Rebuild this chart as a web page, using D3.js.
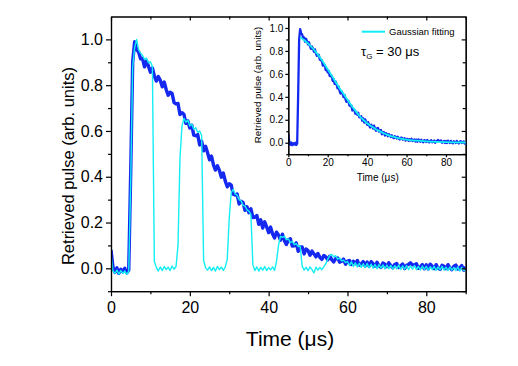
<!DOCTYPE html>
<html>
<head>
<meta charset="utf-8">
<script src="https://cdn.jsdelivr.net/npm/d3@7"></script>
<style>
  body { margin: 0; background: #fff; }
  text { font-family: "Liberation Sans", Arial, sans-serif; fill: #000; }
  .axis path, .axis line { stroke: #000; stroke-width: 1.2; }
</style>
</head>
<body>
<div id="chart"></div>
<script>
// Data: pulse traces sampled every 0.5 us from 0 to 90 us
var sampleStep = 0.5;

var retrievedPulse = [
  0.08, 0.005, -0.018, 0.002, -0.022, -0.004, -0.016, 0.0, -0.02, -0.008,
  0.42, 0.9, 0.99, 0.955, 0.945, 0.915, 0.917, 0.880, 0.906, 0.883,
  0.856, 0.875, 0.840, 0.818, 0.838, 0.821, 0.793, 0.814, 0.781, 0.756,
  0.769, 0.764, 0.724, 0.718, 0.72, 0.672, 0.68, 0.673, 0.633, 0.644,
  0.613, 0.625, 0.582, 0.579, 0.584, 0.539, 0.555, 0.513, 0.533, 0.505,
  0.474, 0.49, 0.452, 0.429, 0.448, 0.428, 0.398, 0.416, 0.381, 0.356,
  0.369, 0.364, 0.324, 0.32, 0.325, 0.281, 0.293, 0.288, 0.253, 0.269,
  0.243, 0.26, 0.222, 0.223, 0.231, 0.192, 0.212, 0.176, 0.203, 0.181,
  0.156, 0.18, 0.15, 0.133, 0.158, 0.146, 0.123, 0.149, 0.121, 0.104,
  0.125, 0.129, 0.097, 0.098, 0.111, 0.074, 0.093, 0.093, 0.063, 0.084,
  0.077, 0.057, 0.075, 0.063, 0.05, 0.065, 0.048, 0.039, 0.056, 0.05,
  0.037, 0.053, 0.038, 0.028, 0.042, 0.045, 0.027, 0.031, 0.04, 0.018,
  0.031, 0.034, 0.017, 0.031, 0.02, 0.034, 0.014, 0.02, 0.029, 0.01,
  0.027, 0.009, 0.029, 0.02, 0.009, 0.026, 0.011, 0.004, 0.023, 0.018,
  0.007, 0.024, 0.011, 0.002, 0.017, 0.021, 0.004, 0.01, 0.019, -0.001,
  0.013, 0.017, 0.024, 0.015, 0.015, 0.02, 0.0, 0.006, 0.016, -0.002,
  0.015, -0.003, 0.018, 0.009, -0.002, 0.016, 0.001, -0.005, 0.013, 0.009,
  -0.002, 0.016, 0.002, -0.006, 0.009, 0.014, -0.003, 0.002, 0.012, -0.008,
  0.006
];

var gatedPulse = [
  0.06, -0.012, -0.022, -0.008, -0.025, -0.01, -0.022, -0.012, -0.026, -0.014,
  0.38, 0.88, 0.965, 1.0, 0.955, 0.94, 0.93, 0.912, 0.918, 0.898,
  0.902, 0.882, 0.03, 0.004, -0.012, 0.006, -0.01, 0.008, -0.006, 0.005,
  -0.01, 0.01, -0.004, 0.008, 0.1, 0.48, 0.62, 0.655, 0.638, 0.648,
  0.622, 0.63, 0.608, 0.614, 0.594, 0.6, 0.58, 0.035, 0.002, -0.008,
  0.006, -0.01, 0.004, -0.012, 0.008, -0.006, 0.005, -0.009, 0.006, 0.04,
  0.22, 0.33, 0.345, 0.325, 0.32, 0.3, 0.295, 0.275, 0.272, 0.255,
  0.25, 0.235, 0.015, -0.01, 0.006, -0.012, 0.004, -0.008, 0.008, -0.01,
  0.003, -0.007, 0.006, -0.009, 0.03, 0.1, 0.14, 0.135, 0.14, 0.125,
  0.128, 0.112, 0.118, 0.103, 0.108, 0.095, 0.098, 0.01, -0.008, 0.004,
  -0.01, 0.006, -0.006, -0.02, 0.005, -0.008, 0.004, -0.006, 0.006, 0.02,
  0.04, 0.055, 0.06, 0.05, 0.055, 0.04, 0.045, 0.032, 0.036, 0.025,
  0.03, 0.012, 0.028, 0.008, 0.024, 0.006, 0.022, 0.004, 0.02, 0.003,
  0.021, 0.002, 0.018, 0.0, 0.017, -0.002, 0.016, 0.001, 0.015, -0.003,
  0.014, -0.002, 0.013, -0.004, 0.012, -0.003, 0.014, -0.005, 0.011, -0.004,
  0.012, -0.006, 0.01, -0.004, 0.012, -0.006, 0.008, -0.007, 0.01, -0.005,
  0.009, -0.008, 0.007, -0.006, 0.008, -0.009, 0.006, -0.007, 0.009, -0.008,
  0.005, -0.01, 0.006, -0.008, 0.004, -0.01, 0.006, -0.012, 0.004, -0.01,
  -0.004
];

// Gaussian fit shown in the inset
var fitTimes = [6, 8, 10, 12, 14, 16, 18, 20, 22, 24, 26, 28, 30, 32, 34, 36, 38, 40, 42, 44,
  46, 48, 50, 52, 54, 56, 58, 60, 65, 70, 75, 80, 85, 90];
var fitValues = [0.92, 0.895, 0.865, 0.83, 0.79, 0.745, 0.695, 0.64, 0.585, 0.53, 0.475, 0.425,
  0.375, 0.325, 0.28, 0.235, 0.2, 0.17, 0.145, 0.122, 0.103, 0.086, 0.07, 0.058, 0.048, 0.04,
  0.033, 0.027, 0.018, 0.012, 0.008, 0.005, 0.003, 0.002];

var xMajorTicks = [0, 20, 40, 60, 80];
var xMinorTicks = [10, 30, 50, 70, 90];
var yMajorTicks = [0.0, 0.2, 0.4, 0.6, 0.8, 1.0];
var yMinorTicks = [-0.1, 0.1, 0.3, 0.5, 0.7, 0.9];

var blue = "#1428f0";
var cyan = "#12eef2";

var svgWidth = 518;
var svgHeight = 366;
var svg = d3.select("#chart").append("svg").attr("width", svgWidth).attr("height", svgHeight);

// main plot frame
var plot = {left: 111, right: 465.7, top: 16.5, bottom: 291.2};
var x = d3.scaleLinear().domain([0, 90]).range([plot.left, plot.right]);
var y = d3.scaleLinear().domain([-0.1, 1.1]).range([plot.bottom, plot.top]);

svg.append("clipPath").attr("id", "mainClip").append("rect")
  .attr("x", plot.left).attr("y", plot.top)
  .attr("width", plot.right - plot.left).attr("height", plot.bottom - plot.top);

var traceLine = (xs, ys) => d3.line().x((d, i) => xs(i * sampleStep)).y(d => ys(d));

var mainG = svg.append("g").attr("clip-path", "url(#mainClip)");
mainG.append("path").datum(retrievedPulse)
  .attr("d", traceLine(x, y))
  .attr("fill", "none").attr("stroke", blue).attr("stroke-width", 3.4).attr("stroke-linejoin", "round");
mainG.append("path").datum(gatedPulse)
  .attr("d", traceLine(x, y))
  .attr("fill", "none").attr("stroke", cyan).attr("stroke-width", 1.4).attr("stroke-linejoin", "round");

// axes: left/bottom ticks out, top/right ticks in
function addAxis(axis, tx, ty, labels, fontSize) {
  var g = svg.append("g").attr("class", "axis").attr("transform", `translate(${tx},${ty})`).call(axis);
  g.selectAll("text").style("font-size", fontSize + "px").style("font-family", "Liberation Sans, Arial, sans-serif");
  if (!labels) g.selectAll("text").remove();
  return g;
}

addAxis(d3.axisBottom(x).tickValues(xMajorTicks).tickSize(5).tickSizeOuter(0).tickPadding(5).tickFormat(d3.format("d")), 0, plot.bottom, true, 16);
addAxis(d3.axisBottom(x).tickValues(xMinorTicks).tickSize(3).tickSizeOuter(0), 0, plot.bottom, false);
addAxis(d3.axisLeft(y).tickValues(yMajorTicks).tickSize(5).tickSizeOuter(0).tickPadding(3).tickFormat(d3.format(".1f")), plot.left, 0, true, 16);
addAxis(d3.axisLeft(y).tickValues(yMinorTicks).tickSize(3).tickSizeOuter(0), plot.left, 0, false);
addAxis(d3.axisBottom(x).tickValues(xMajorTicks).tickSize(4).tickSizeOuter(0), 0, plot.top, false);
addAxis(d3.axisBottom(x).tickValues(xMinorTicks).tickSize(3).tickSizeOuter(0), 0, plot.top, false);
addAxis(d3.axisLeft(y).tickValues(yMajorTicks).tickSize(4).tickSizeOuter(0), plot.right, 0, false);
addAxis(d3.axisLeft(y).tickValues(yMinorTicks).tickSize(3).tickSizeOuter(0), plot.right, 0, false);

svg.append("text").attr("x", 290).attr("y", 346).attr("text-anchor", "middle")
  .style("font-size", "21px").text("Time (\u03bcs)");
svg.append("text").attr("transform", "translate(74,166) rotate(-90)").attr("text-anchor", "middle")
  .style("font-size", "16.5px").text("Retrieved pulse (arb. units)");

// inset
var inset = {left: 288.3, right: 465.7, top: 16.5, bottom: 154.2};
var xi = d3.scaleLinear().domain([0, 90]).range([inset.left, inset.right]);
var yi = d3.scaleLinear().domain([-0.1, 1.1]).range([inset.bottom, inset.top]);

svg.append("clipPath").attr("id", "insetClip").append("rect")
  .attr("x", inset.left).attr("y", inset.top)
  .attr("width", inset.right - inset.left).attr("height", inset.bottom - inset.top);

var insetG = svg.append("g").attr("clip-path", "url(#insetClip)");
insetG.append("path").datum(retrievedPulse)
  .attr("d", traceLine(xi, yi))
  .attr("fill", "none").attr("stroke", blue).attr("stroke-width", 2.3).attr("stroke-linejoin", "round");
insetG.append("path").datum(fitValues)
  .attr("d", d3.line().x((d, i) => xi(fitTimes[i])).y(d => yi(d)).curve(d3.curveMonotoneX))
  .attr("fill", "none").attr("stroke", cyan).attr("stroke-width", 1.8);

addAxis(d3.axisBottom(xi).tickValues(xMajorTicks).tickSize(3).tickSizeOuter(0).tickPadding(2).tickFormat(d3.format("d")), 0, inset.bottom, true, 10);
addAxis(d3.axisBottom(xi).tickValues(xMinorTicks).tickSize(2).tickSizeOuter(0), 0, inset.bottom, false);
addAxis(d3.axisLeft(yi).tickValues(yMajorTicks).tickSize(3).tickSizeOuter(0).tickPadding(2).tickFormat(d3.format(".1f")), inset.left, 0, true, 10);
addAxis(d3.axisLeft(yi).tickValues(yMinorTicks).tickSize(2).tickSizeOuter(0), inset.left, 0, false);
svg.selectAll(".axis path, .axis line").style("stroke-width", 1.2);

svg.append("text").attr("x", 377.7).attr("y", 180.5).attr("text-anchor", "middle")
  .style("font-size", "10px").text("Time (\u03bcs)");
svg.append("text").attr("transform", "translate(261,85) rotate(-90)").attr("text-anchor", "middle")
  .style("font-size", "9.7px").text("Retrieved pulse (arb. units)");

// legend
svg.append("line").attr("x1", 361.7).attr("x2", 385).attr("y1", 31.7).attr("y2", 31.7)
  .attr("stroke", cyan).attr("stroke-width", 2);
svg.append("text").attr("x", 389).attr("y", 35).style("font-size", "9.5px").text("Gaussian fitting");

var tau = svg.append("text").attr("x", 361).attr("y", 55.5).style("font-size", "13px");
tau.append("tspan").text("\u03c4");
tau.append("tspan").attr("dy", 3).style("font-size", "8px").text("G");
tau.append("tspan").attr("dy", -3).text(" = 30 \u03bcs");
</script>
</body>
</html>
